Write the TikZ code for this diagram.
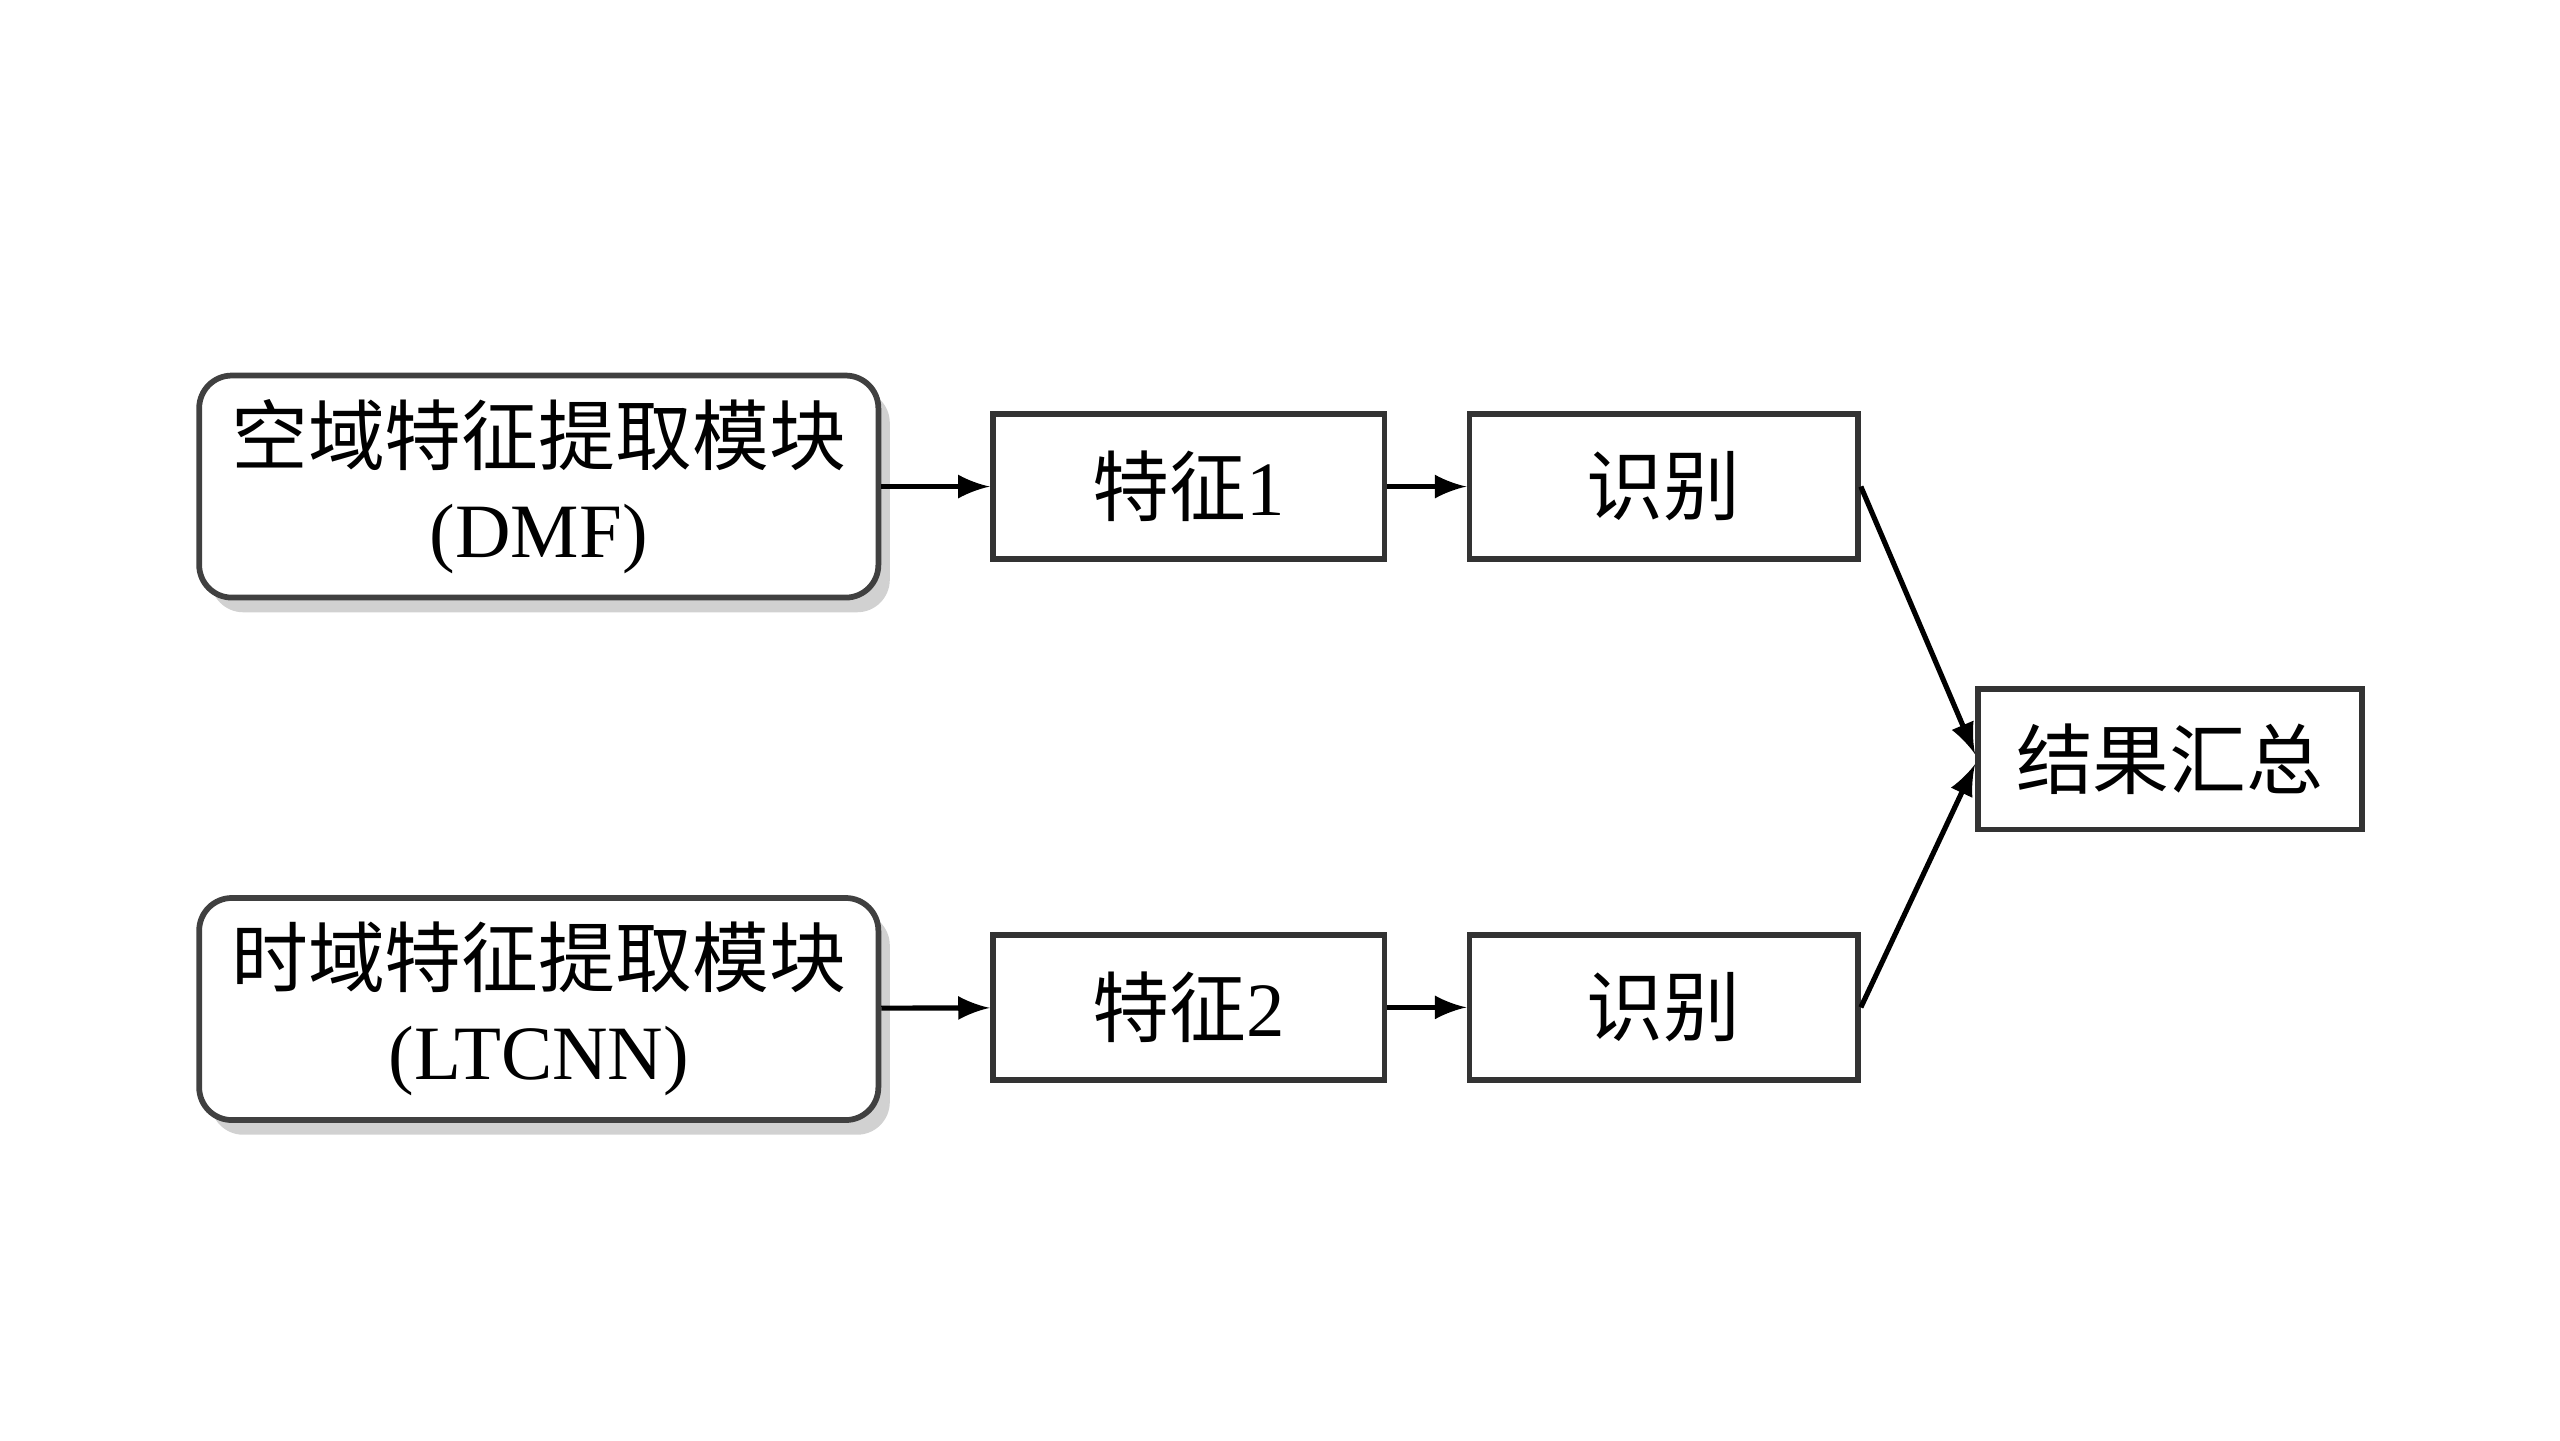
\documentclass[tikz,border=0pt]{standalone}
\usepackage{fontspec}
\setmainfont{Liberation Serif}
\newfontfamily\cjk{Noto Sans CJK SC}
\usetikzlibrary{arrows,shadows}

\tikzset{
  modbox/.style={draw=black!75, line width=1pt, rounded corners=0.2cm, fill=white,
    minimum width=4.16cm, minimum height=1.36cm, align=center,
    drop shadow={shadow xshift=0.07cm, shadow yshift=-0.09cm, fill=black!30, opacity=0.6}},
  stepbox/.style={draw=black!80, line width=1pt, fill=white,
    minimum width=2.38cm, minimum height=0.89cm, align=center},
  flow/.style={-latex, line width=0.9pt}
}

\begin{document}
\begin{tikzpicture}[font=\fontsize{13.4}{16.2}\selectfont]
        \useasboundingbox (0, 0) rectangle (15.68, -8.82);

        \node[modbox] (dmf) at (3.30, -2.98) {{\cjk 空域特征提取模块}\\(DMF)};
        \node[modbox] (ltcnn) at (3.30, -6.18) {{\cjk 时域特征提取模块}\\(LTCNN)};

        \node[stepbox, minimum width=2.40cm] (f1) at (7.28, -2.98) {{\cjk 特征}1};
        \node[stepbox] (r1) at (10.19, -2.98) {\cjk 识别};
        \node[stepbox, minimum width=2.40cm] (f2) at (7.28, -6.17) {{\cjk 特征}2};
        \node[stepbox] (r2) at (10.19, -6.17) {\cjk 识别};

        \node[stepbox, minimum width=2.35cm, minimum height=0.86cm] (sum) at (13.29, -4.65) {\cjk 结果汇总};

        \draw[flow] (dmf) to (f1);
        \draw[flow] (f1) to (r1);
        \draw[flow] (ltcnn) to (f2);
        \draw[flow] (f2) to (r2);
        \draw[flow] (r1.east) to ([yshift=0.03cm]sum.west);
        \draw[flow] (r2.east) to ([yshift=-0.03cm]sum.west);
      \end{tikzpicture}
\end{document}
